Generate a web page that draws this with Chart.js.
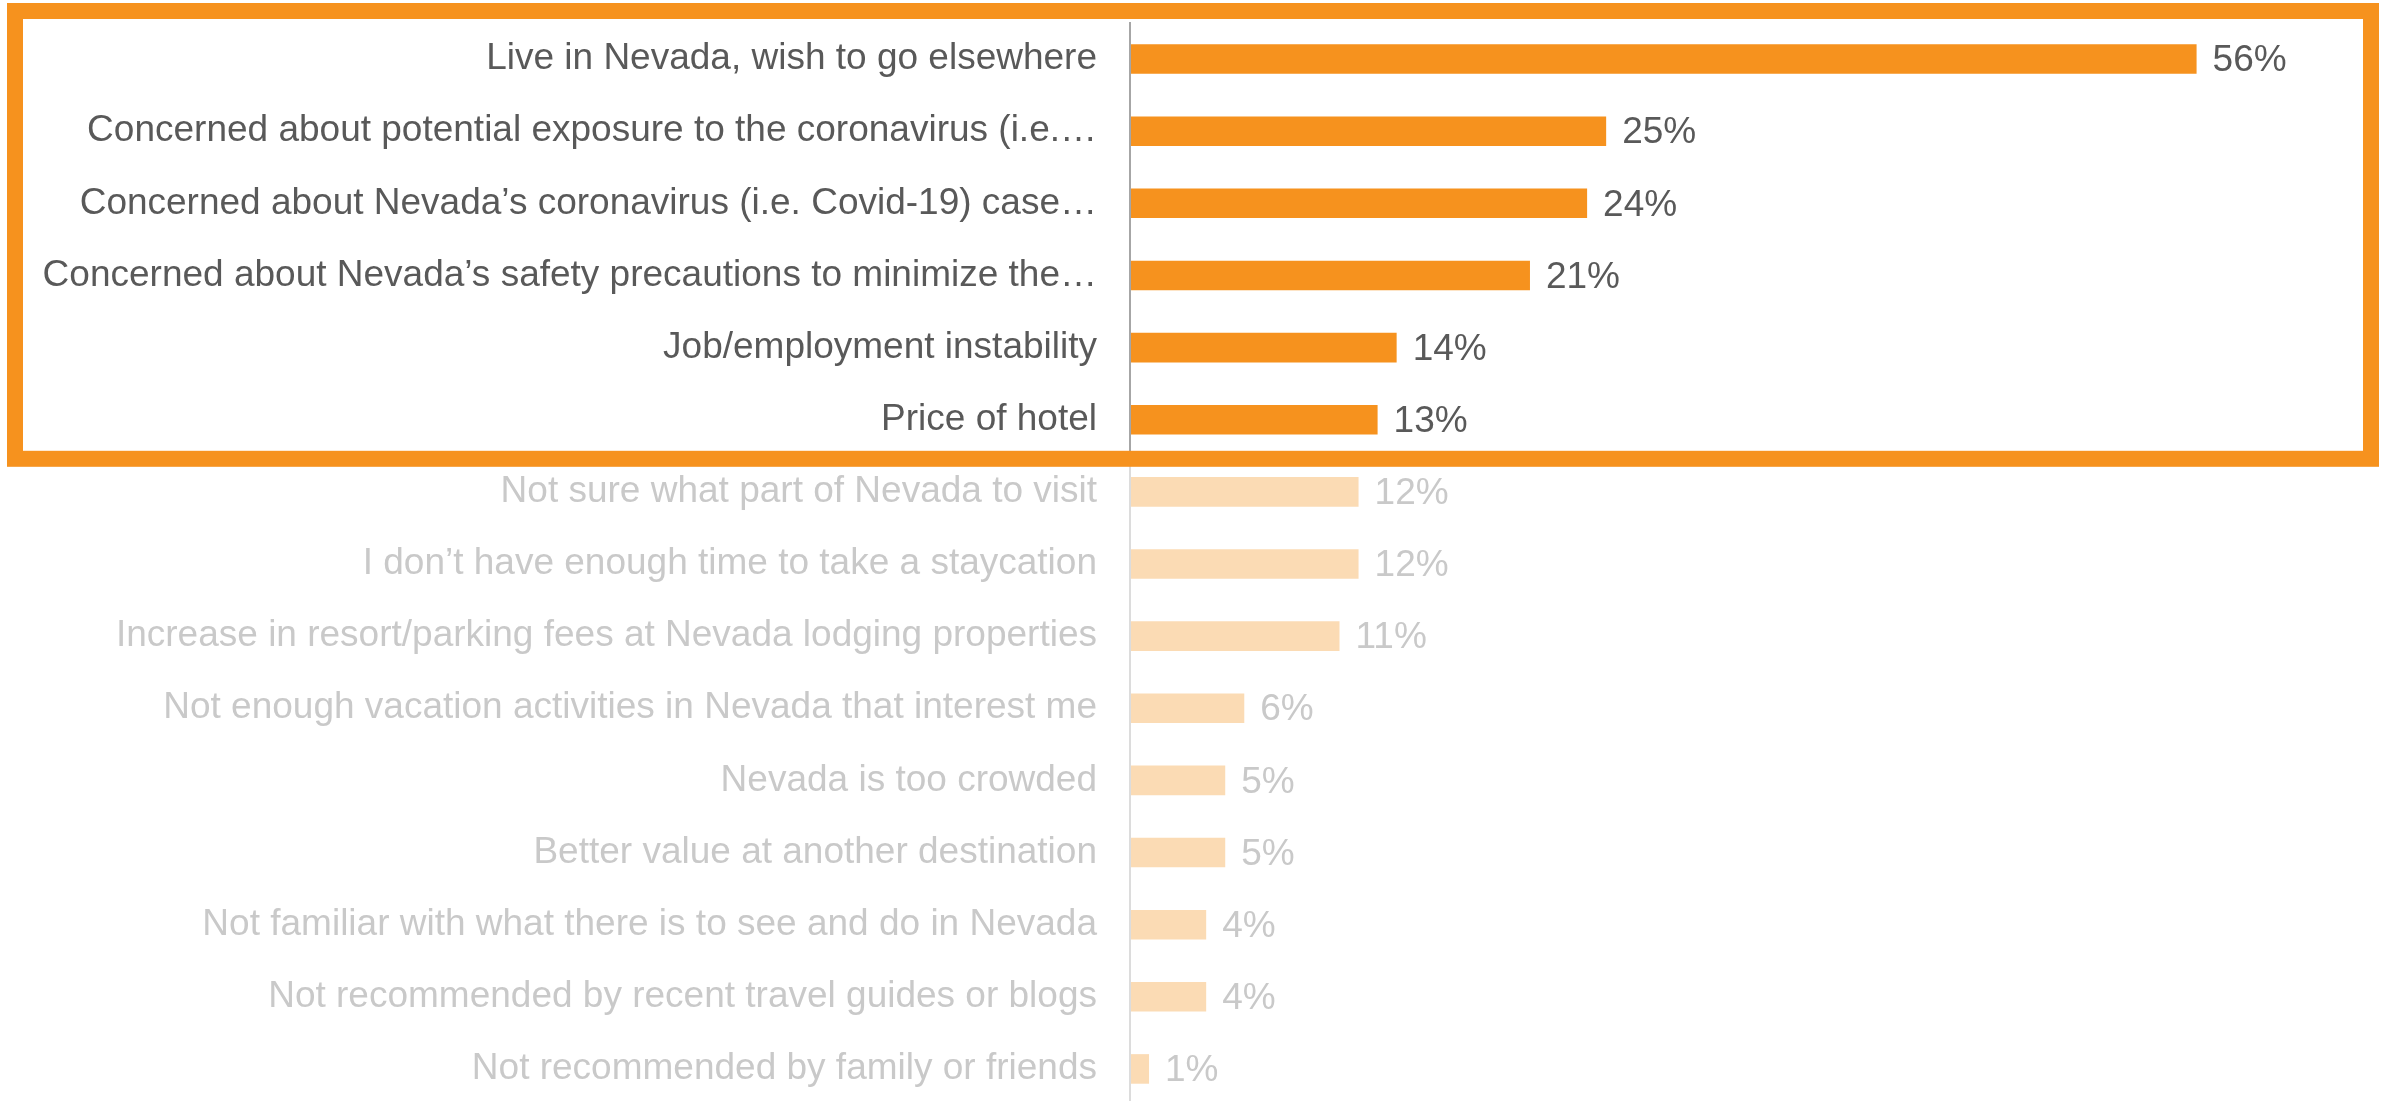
<!DOCTYPE html>
<html>
<head>
<meta charset="utf-8">
<script src="https://cdn.jsdelivr.net/npm/chart.js@4"></script>
<style>
  html, body { margin: 0; padding: 0; background: #ffffff; overflow: hidden; }
  #wrap { position: relative; width: 2392px; height: 1105px; }
</style>
</head>
<body>
<div id="wrap"><canvas id="reasonsChart"></canvas></div>
<script>
// Reasons for not taking a Nevada staycation (% of respondents)
const reasons = [
    'Live in Nevada, wish to go elsewhere',
    'Concerned about potential exposure to the coronavirus (i.e.…',
    'Concerned about Nevada’s coronavirus (i.e. Covid-19) case…',
    'Concerned about Nevada’s safety precautions to minimize the…',
    'Job/employment instability',
    'Price of hotel',
    'Not sure what part of Nevada to visit',
    'I don’t have enough time to take a staycation',
    'Increase in resort/parking fees at Nevada lodging properties',
    'Not enough vacation activities in Nevada that interest me',
    'Nevada is too crowded',
    'Better value at another destination',
    'Not familiar with what there is to see and do in Nevada',
    'Not recommended by recent travel guides or blogs',
    'Not recommended by family or friends'
];
const shares = [56, 25, 24, 21, 14, 13, 12, 12, 11, 6, 5, 5, 4, 4, 1];

// the first few reasons are highlighted, the rest are greyed out
const highlightCount = 6;

const orange = '#F6921E';
const orangeFaded = '#FBDBB4';
const textDark = '#595959';
const textFaded = '#C9C9C9';
const axisDark = '#A6A6A6';
const axisFaded = '#DCDCDC';
const fontFamily = '"Liberation Sans", Arial, sans-serif';

const barColors = shares.map((v, i) => i < highlightCount ? orange : orangeFaded);

// percentage labels at the end of each bar
const valueLabels = {
    id: 'valueLabels',
    afterDatasetsDraw(chart) {
        const ctx = chart.ctx;
        const meta = chart.getDatasetMeta(0);
        ctx.save();
        ctx.font = '37px ' + fontFamily;
        ctx.textBaseline = 'middle';
        ctx.textAlign = 'left';
        meta.data.forEach((bar, i) => {
            ctx.fillStyle = i < highlightCount ? textDark : textFaded;
            ctx.fillText(shares[i] + '%', bar.x + 16, bar.y + 2);
        });
        ctx.restore();
    }
};

// category axis line plus the box around the highlighted group
const axisAndFrame = {
    id: 'axisAndFrame',
    afterDraw(chart) {
        const ctx = chart.ctx;
        const y = chart.scales.y;
        const area = chart.chartArea;
        const split = (y.getPixelForTick(highlightCount - 1) + y.getPixelForTick(highlightCount)) / 2;

        ctx.save();
        ctx.lineWidth = 2;
        ctx.strokeStyle = axisFaded;
        ctx.beginPath();
        ctx.moveTo(area.left, split + 10);
        ctx.lineTo(area.left, chart.height);
        ctx.stroke();
        ctx.strokeStyle = axisDark;
        ctx.beginPath();
        ctx.moveTo(area.left, area.top - 1);
        ctx.lineTo(area.left, split + 10);
        ctx.stroke();

        ctx.lineWidth = 16;
        ctx.strokeStyle = orange;
        ctx.strokeRect(15, 11, chart.width - 36, split + 3 - 11);
        ctx.restore();
    }
};

const config = {
    type: 'bar',
    data: {
        labels: reasons,
        datasets: [{
            data: shares,
            backgroundColor: barColors,
            borderWidth: 0,
            categoryPercentage: 1,
            barPercentage: 0.41
        }]
    },
    options: {
        indexAxis: 'y',
        responsive: true,
        maintainAspectRatio: false,
        devicePixelRatio: 1,
        animation: false,
        layout: {
            padding: { top: 23, right: 24, bottom: 0, left: 0 }
        },
        scales: {
            x: {
                display: false,
                min: 0,
                max: 65
            },
            y: {
                grid: { display: false, drawTicks: false },
                border: { display: false },
                ticks: {
                    padding: 33,
                    autoSkip: false,
                    color: (c) => c.index < highlightCount ? textDark : textFaded,
                    font: { family: fontFamily, size: 37 }
                },
                afterFit(scale) {
                    // fixed label column; bands run edge to edge
                    scale.width = 1130;
                    scale.paddingTop = 0;
                    scale.paddingBottom = 0;
                }
            }
        },
        plugins: {
            legend: { display: false },
            tooltip: { enabled: false }
        }
    },
    plugins: [valueLabels, axisAndFrame]
};

const reasonsChart = new Chart(document.getElementById('reasonsChart'), config);
</script>
</body>
</html>
